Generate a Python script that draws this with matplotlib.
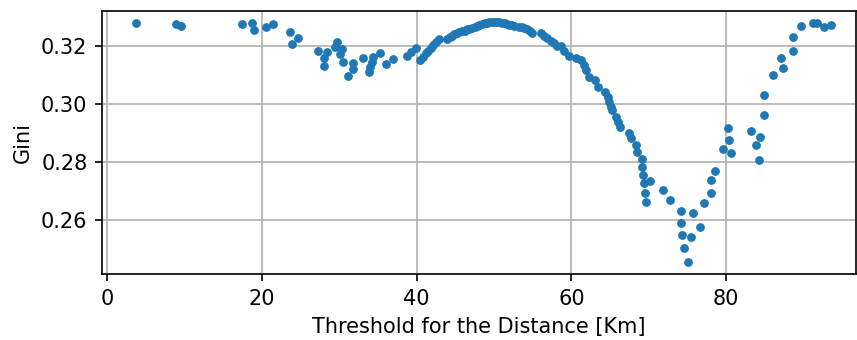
import matplotlib
matplotlib.use('Agg')
import matplotlib.pyplot as plt

# threshold for the distance (km) and the resulting Gini index
threshold = [3.8, 8.9, 9.6, 17.4, 18.7, 19.0, 20.6, 21.4, 23.6, 23.9, 24.7,
             27.2, 28.1, 28.1, 28.4, 29.4, 29.7, 30.1, 30.3, 30.5, 31.1, 31.8, 31.8,
             33.1, 33.9, 34.0, 34.2, 34.4, 35.3, 36.1, 36.9, 38.7, 39.3, 39.9,
             40.5, 40.8, 41.2, 41.5, 41.8, 42.1, 42.5, 42.9,
             43.9, 44.3, 44.6, 44.9, 45.2, 45.5, 45.9, 46.2, 46.5, 46.8, 47.1, 47.5,
             47.8, 48.1, 48.4, 48.8, 49.1, 49.4, 49.8, 50.1, 50.4, 50.7, 51.0, 51.4,
             51.7, 52.0, 52.3, 52.6, 53.3, 53.6, 53.9, 54.3, 54.6, 54.9,
             56.1, 56.5, 56.9, 57.4, 57.8, 58.2, 58.7, 59.1, 59.7, 60.6, 61.2,
             61.6, 61.9, 62.3, 63.0, 63.4, 64.3, 64.7, 64.9, 65.1, 65.3, 65.8, 66.0,
             66.3, 67.4, 67.7, 68.3, 68.5, 69.1, 69.1, 69.3, 69.4, 70.2, 69.5, 69.7,
             71.8, 72.8, 74.2, 75.7, 74.2, 74.3, 75.5, 76.6, 74.5, 75.1,
             77.2, 78.1, 78.0, 78.6, 79.6, 80.3, 80.4, 80.6,
             83.2, 84.4, 83.9, 84.3, 84.9, 84.9, 86.0, 87.4, 87.1, 88.6, 88.6,
             89.7, 91.2, 91.7, 92.6, 93.5]
gini = [0.3280, 0.3275, 0.3270, 0.3275, 0.3280, 0.3255, 0.3267, 0.3275, 0.3249, 0.3207, 0.3227,
        0.3183, 0.3158, 0.3132, 0.3179, 0.3198, 0.3213, 0.3171, 0.3189, 0.3146, 0.3097, 0.3140, 0.3120,
        0.3158, 0.3111, 0.3129, 0.3146, 0.3163, 0.3177, 0.3138, 0.3154, 0.3166, 0.3180, 0.3192,
        0.3152, 0.3163, 0.3175, 0.3183, 0.3192, 0.3203, 0.3215, 0.3223,
        0.3223, 0.3232, 0.3236, 0.3241, 0.3244, 0.3248, 0.3250, 0.3253, 0.3257, 0.3260, 0.3263, 0.3267,
        0.3270, 0.3273, 0.3276, 0.3278, 0.3280, 0.3282, 0.3283, 0.3283, 0.3283, 0.3282, 0.3280, 0.3278,
        0.3276, 0.3273, 0.3271, 0.3269, 0.3267, 0.3264, 0.3261, 0.3257, 0.3253, 0.3244,
        0.3244, 0.3234, 0.3227, 0.3218, 0.3209, 0.3200, 0.3200, 0.3183, 0.3166, 0.3160, 0.3150,
        0.3135, 0.3117, 0.3094, 0.3083, 0.3060, 0.3042, 0.3025, 0.3008, 0.2991, 0.2979, 0.2956, 0.2939,
        0.2922, 0.2901, 0.2882, 0.2859, 0.2836, 0.2809, 0.2784, 0.2755, 0.2727, 0.2734, 0.2694, 0.2662,
        0.2703, 0.2668, 0.2631, 0.2624, 0.2590, 0.2548, 0.2540, 0.2577, 0.2503, 0.2455,
        0.2660, 0.2692, 0.2737, 0.2769, 0.2845, 0.2917, 0.2876, 0.2832,
        0.2906, 0.2887, 0.2860, 0.2808, 0.2962, 0.3031, 0.3100, 0.3125, 0.3158, 0.3184, 0.3232,
        0.3269, 0.3280, 0.3278, 0.3264, 0.3272]

# the original looks like a default plot saved at 1.5x scale
plt.rcParams['font.size'] = 15
plt.rcParams['axes.linewidth'] = 1.2
plt.rcParams['axes.labelpad'] = 6
for a in ('xtick', 'ytick'):
    plt.rcParams[a + '.major.size'] = 5.25
    plt.rcParams[a + '.major.width'] = 1.2
    plt.rcParams[a + '.major.pad'] = 5.25

fig = plt.figure(figsize=(8.57, 3.4), dpi=100)
ax = fig.add_axes([0.119, 0.194, 0.880, 0.774])
ax.scatter(threshold, gini, s=28, color='#1f77b4', zorder=3)
ax.set_xlim(-0.65, 96.8)
ax.set_ylim(0.2414, 0.3321)
ax.set_xticks([0, 20, 40, 60, 80])
ax.set_yticks([0.26, 0.28, 0.30, 0.32])
ax.grid(True, color='#b0b0b0', linewidth=1.2)
ax.set_axisbelow(True)
ax.set_xlabel('Threshold for the Distance [Km]')
ax.set_ylabel('Gini')
fig.savefig('out.png', dpi=100)
